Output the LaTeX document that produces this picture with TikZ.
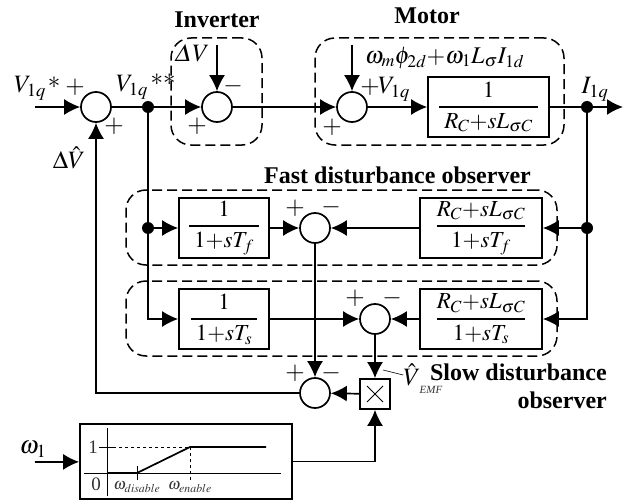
\documentclass[tikz,border=0pt]{standalone}
\usepackage{mathptmx}
\usepackage[no-math]{fontspec}
\setmainfont{Liberation Serif}
\usepackage{amsmath}
\usetikzlibrary{calc,arrows.meta}
\newcommand{\tfblock}[2]{$\displaystyle\genfrac{}{}{1.6pt}{}{#1}{\hspace{5pt}#2\hspace{5pt}}$}
\tikzset{
    sig/.style={line width=1.7pt,-{Latex[length=16pt,width=16pt]}},
    wire/.style={line width=1.7pt},
    sumnode/.style={draw,circle,line width=1.7pt,minimum size=30pt,inner sep=0pt},
    dotnode/.style={fill,circle,minimum size=12pt,inner sep=0pt},
    tfnode/.style={draw,rectangle,line width=1.7pt,minimum height=60pt,inner sep=0pt,font=\fontsize{23}{23}\selectfont},
    groupbox/.style={draw,rectangle,rounded corners=20pt,line width=1.5pt,dash pattern=on 10pt off 5pt,inner sep=0pt},
    lbl/.style={inner sep=0pt,font=\fontsize{25}{25}\selectfont},
    small/.style={inner sep=0pt,font=\fontsize{19}{19}\selectfont,text=black!80},
    tiny/.style={inner sep=0pt,font=\fontsize{16}{16}\selectfont,text=black!80},
    title/.style={inner sep=0pt,font=\fontsize{24}{24}\selectfont\bfseries},
}
\begin{document}
\begin{tikzpicture}[x=1pt,y=-1pt]
    \useasboundingbox (0,0) rectangle (634,500);
    % dashed groups
    \node[groupbox,minimum width=91pt,minimum height=107pt] (inverter) at (216.5,91.5) {};
    \node[groupbox,minimum width=249pt,minimum height=107pt] (motor) at (439.5,91.5) {};
    \node[groupbox,minimum width=431pt,minimum height=75pt] (fastgrp) at (341.5,227.5) {};
    \node[groupbox,minimum width=431pt,minimum height=75pt] (slowgrp) at (341.5,318.5) {};
    % forward path
    \coordinate (vref) at (35,107);
    \coordinate (iout) at (623,107);
    \coordinate (dvtop) at (217,45);
    \coordinate (dist) at (352,45);
    \coordinate (wref) at (35,462);
    \node[sumnode] (sumA) at (96,107) {};
    \node[dotnode] (dotA) at (148,107) {};
    \node[sumnode] (sumB) at (217,107) {};
    \node[sumnode] (sumC) at (352,107) {};
    \node[tfnode,minimum width=121pt] (plant) at (488.5,107) {\tfblock{1}{R_C{+}sL_{\sigma C}}};
    \node[dotnode] (dotB) at (587,107) {};
    % observers
    \node[dotnode] (dotC) at (148,228) {};
    \node[dotnode] (dotD) at (587,228) {};
    \node[tfnode,minimum width=90pt] (lpfF) at (224,228) {\tfblock{1}{1{+}sT_f}};
    \node[sumnode] (sumF) at (315,228) {};
    \node[tfnode,minimum width=122pt] (invF) at (481,228) {\tfblock{R_C{+}sL_{\sigma C}}{1{+}sT_f}};
    \node[tfnode,minimum width=90pt] (lpfS) at (224,319) {\tfblock{1}{1{+}sT_s}};
    \node[sumnode] (sumS) at (375,319) {};
    \node[tfnode,minimum width=122pt] (invS) at (481,319) {\tfblock{R_C{+}sL_{\sigma C}}{1{+}sT_s}};
    \node[sumnode] (sumD) at (315,393) {};
    \node[draw,rectangle,line width=1.7pt,minimum size=30pt,inner sep=0pt] (mult) at (375,394) {};
    \node[draw,rectangle,line width=1.7pt,minimum width=212pt,minimum height=75pt,inner sep=0pt] (sched) at (186,461.5) {};
    % connectors
    \draw[sig] (vref) -- (sumA);
    \draw[wire] (sumA) -- (dotA);
    \draw[sig] (dotA) -- (sumB);
    \draw[sig] (sumB) -- (sumC);
    \draw[sig] (dvtop) -- (sumB);
    \draw[sig] (dist) -- (sumC);
    \draw[sig] (sumC) -- (plant);
    \draw[wire] (plant) -- (dotB);
    \draw[sig] (dotB) -- (iout);
    \draw[wire] (dotA) -- (dotC);
    \draw[wire] (dotB) -- (dotD);
    \draw[sig] (dotC) -- (lpfF);
    \draw[sig] (dotC) |- (lpfS);
    \draw[sig] (dotD) -- (invF);
    \draw[sig] (dotD) |- (invS);
    \draw[sig] (lpfF) -- (sumF);
    \draw[sig] (invF) -- (sumF);
    \draw[sig] (lpfS) -- (sumS);
    \draw[sig] (invS) -- (sumS);
    \draw[sig] (sumF) -- (sumD);
    \draw[sig] (sumS) -- (mult);
    \draw[sig] (mult) -- (sumD);
    \draw[sig] (sumD) -| (sumA);
    \draw[sig] (wref) -- (sched);
    \draw[sig] (sched) -| (mult);
    % multiplier cross
    \draw[line width=1pt] ([shift={(-8,-8)}]mult.center) -- ([shift={(8,8)}]mult.center);
    \draw[line width=1pt] ([shift={(-8,8)}]mult.center) -- ([shift={(8,-8)}]mult.center);
    % scheduling curve
    \draw[line width=.8pt] (107,428) -- (107,496);
    \draw[line width=.8pt] (84,473) -- (281,473);
    \draw[line width=.8pt] (99,447) -- (113,447);
    \draw[line width=.8pt] (137,466) -- (137,480);
    \draw[line width=.8pt,dashed] (113,447) -- (190,447);
    \draw[line width=.8pt,dashed] (190,447) -- (190,481);
    \draw[line width=1.7pt] (107,473) -- (137,473) -- (190,447) -- (266,447);
    % signs
    \foreach \name/\x/\y/\s in {pA/75/87/+, pB/114/126/+, pC/197/126/+, mC/233/86/-, pD/332/127/+, pE/370/87/+,
        pF/295/208/+, mF/331/207/-, pG/355/298/+, mG/392/298/-, pH/295/373/+, mH/331/373/-}
        \node[lbl] (\name) at (\x,\y) {$\s$};
    % labels
    \node[lbl] (vrefLbl) at (30,88) {$V_{1q}$};
    \node[lbl] (vstar) at (54,83) {$*$};
    \node[lbl] (vssLbl) at (132,87) {$V_{1q}$};
    \node[lbl] (vss) at (163,80) {$*{*}$};
    \node[lbl] (dvLbl) at (192,53) {$\varDelta V$};
    \node[lbl] (vhat) at (69,158) {$\Delta\hat{V}$};
    \node[lbl,anchor=west] (vplant) at (378,89) {$V_{1q}$};
    \node[lbl,anchor=west,font=\fontsize{24}{24}\selectfont] (distLbl) at (365,58) {$\omega_m\phi_{2d}{+}\omega_1L_\sigma I_{1d}$};
    \node[lbl] (iLbl) at (595,89) {$I_{1q}$};
    \node[lbl] (wLbl) at (33,449) {$\omega_1$};
    \node[small] (zero) at (96,484) {0};
    \node[small] (one) at (93,447) {1};
    \node[tiny] (wdis) at (137,487) {$\omega_{disable}$};
    \node[tiny] (wen) at (190,487) {$\omega_{enable}$};
    \node[lbl] (vemf) at (412,375) {$\hat{V}$};
    \node[inner sep=0pt,font=\fontsize{11}{11}\selectfont\itshape,text=black!80] (vemfSub) at (431,390) {EMF};
    \draw[line width=.6pt] (383,370) -- (vemf.west);
    % titles
    \node[title] (invTitle) at (217,20) {Inverter};
    \node[title] (motTitle) at (427,16) {Motor};
    \node[title] (fastTitle) at (397.5,175) {Fast disturbance observer};
    \node[title,anchor=east] (slowTitle) at (607,372) {Slow disturbance};
    \node[title,anchor=east] (slowTitleB) at (607,400) {observer};
\end{tikzpicture}
\end{document}
